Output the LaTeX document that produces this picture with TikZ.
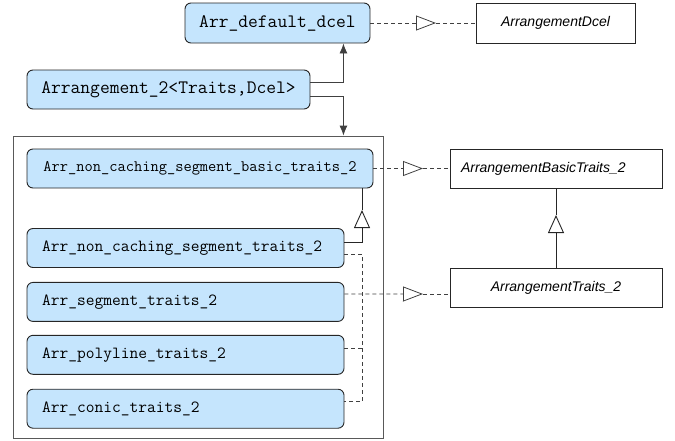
\documentclass[tikz,border=0pt]{standalone}
\usepackage{fontspec}
\newfontfamily\conceptfont{Liberation Sans}
\usepackage{tikz}
\usetikzlibrary{arrows.meta, positioning}
\definecolor{modelblue}{RGB}{197, 229, 253}

\begin{document}
\begin{tikzpicture}[x=1pt, y=-1pt]
\tikzstyle{model} = [rectangle, rounded corners=6pt, draw=black!85, line width=0.9pt, fill=modelblue, inner sep=0pt, text centered]
\tikzstyle{inner} = [model, minimum width=317pt, minimum height=39pt, inner xsep=15pt, text width=287pt, align=left, font=\ttfamily\fontsize{17}{18}\selectfont]
\tikzstyle{concept} = [rectangle, draw=black!85, line width=0.9pt, fill=white, inner sep=0pt, minimum height=39pt, font=\conceptfont\itshape\fontsize{14}{16}\selectfont]
\tikzstyle{arrow} = [line width=0.9pt, draw=black!75, -{Latex[length=10pt, width=8pt]}]
\tikzstyle{realize} = [line width=0.8pt, draw=black!75, dash pattern=on 4pt off 3pt, -{Triangle[open, length=20pt, width=15pt]}]
\tikzstyle{realline} = [line width=0.8pt, draw=black!75, dash pattern=on 4pt off 3pt]
\tikzstyle{inherit} = [line width=0.9pt, draw=black!85, -{Triangle[open, length=18pt, width=16pt]}]

\useasboundingbox (0,0) rectangle (675,440);

% models on top
\node (dcel) [model, minimum width=185pt, minimum height=40pt, font=\ttfamily\fontsize{19}{20}\selectfont] at (277.5,23) {Arr\_default\_dcel};
\node (arr) [model, minimum width=283pt, minimum height=39pt, font=\ttfamily\fontsize{19}{20}\selectfont] at (168.5,89.5) {Arrangement\_2<Traits,Dcel>};

% traits package
\node (pkg) [rectangle, draw=black!65, line width=0.9pt, minimum width=370pt, minimum height=302pt, inner sep=0pt] at (198,287) {};
\node (basic) [model, minimum width=346pt, minimum height=39pt, font=\ttfamily\fontsize{16}{18}\selectfont] at (200,168.5) {Arr\_non\_caching\_segment\_basic\_traits\_2};
\node (nc) [inner] at (185.5,248) {Arr\_non\_caching\_segment\_traits\_2};
\node (seg) [inner, below=14pt of nc] {Arr\_segment\_traits\_2};
\node (poly) [inner, below=13pt of seg] {Arr\_polyline\_traits\_2};
\node (conic) [inner, below=14pt of poly] {Arr\_conic\_traits\_2};

% concepts
\node (dceli) [concept, minimum width=159pt, minimum height=40pt] at (555.5,23) {ArrangementDcel};
\node (basici) [concept, minimum width=212pt, text width=190pt, inner xsep=11pt, align=left] at (556,168.5) {ArrangementBasicTraits\_2};
\node (trait) [concept, minimum width=212pt] at (556,287.5) {ArrangementTraits\_2};

% uses
\draw [arrow] ([yshift=7pt]arr.east) -| ([xshift=-27pt]dcel.south east);
\draw [arrow] ([yshift=-7pt]arr.east) -| ([xshift=-40pt]pkg.north east);

% models realize concepts
\coordinate (r0) at (436,23);
\draw [realize] (dcel) -- (r0);
\draw [realline] (r0) -- (dceli);
\coordinate (r1) at (423,168.5);
\draw [realize] (basic) -- (r1);
\draw [realline] (r1) -- (basici);
\coordinate (r2) at (423,294);
\draw [realize] ([yshift=-12pt]seg.north east) -- (r2);
\draw [realline] (r2) -- (r2 -| trait.west);
\draw [realline] ([yshift=-26pt]nc.north east) -| ([xshift=18pt, yshift=-13pt]conic.north east) -- ([yshift=-13pt]conic.north east);
\draw [realline] ([yshift=-14pt]poly.north east) -- ++(18,0);

% refinements
\coordinate (g1) at (362,210);
\draw [inherit] ([yshift=-14pt]nc.north east) -| (g1);
\draw [line width=0.9pt, draw=black!85] (g1) -- (g1 |- basic.south);
\coordinate (g2) at (556,215);
\draw [inherit] (trait) -- (g2);
\draw [line width=0.9pt, draw=black!85] (g2) -- (basici);
\end{tikzpicture}
\end{document}
